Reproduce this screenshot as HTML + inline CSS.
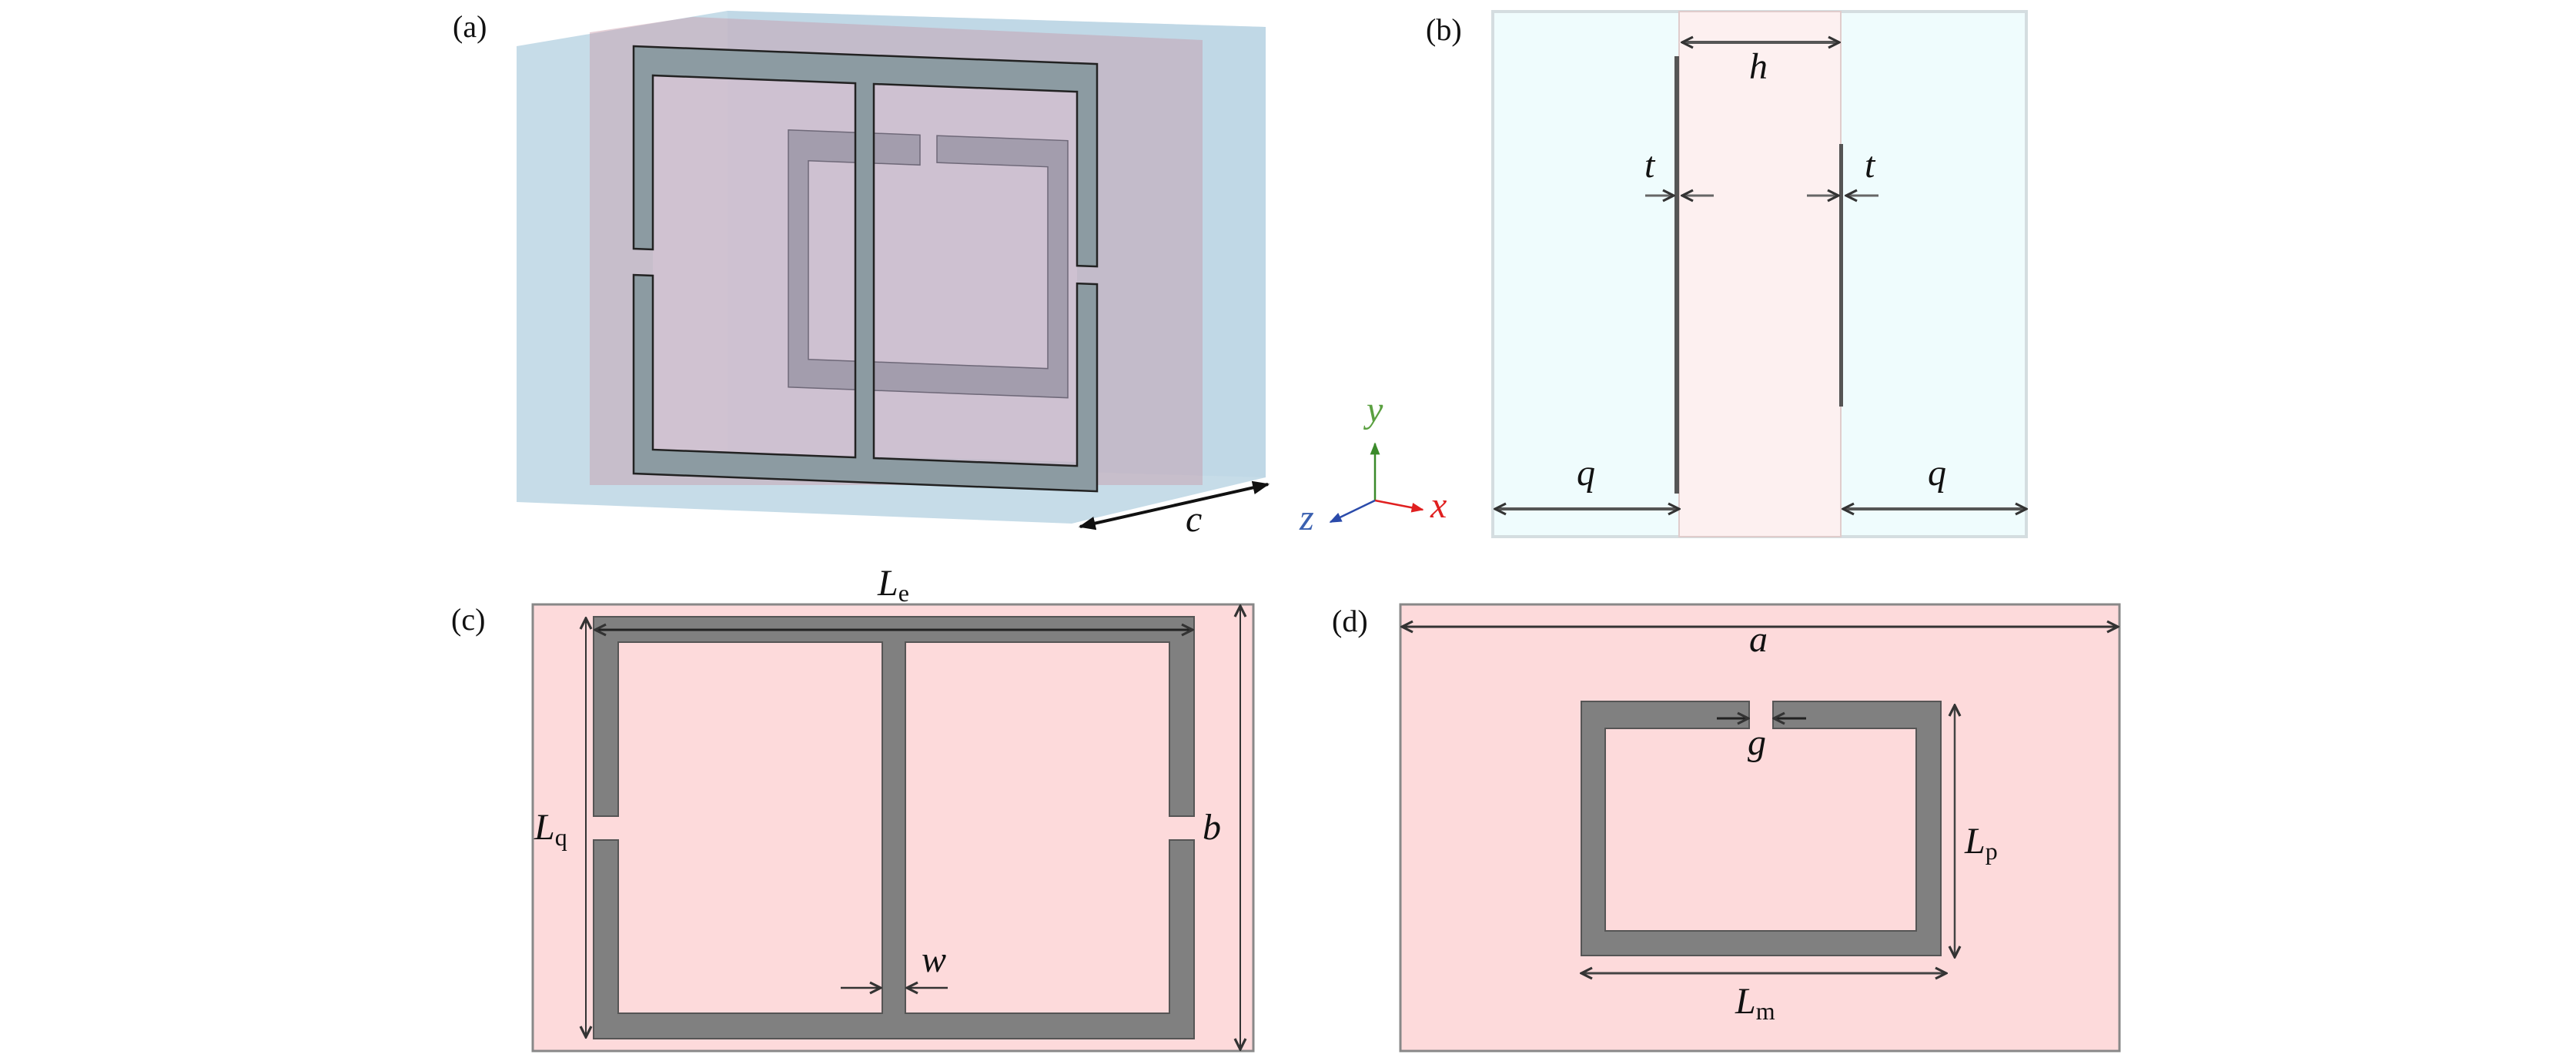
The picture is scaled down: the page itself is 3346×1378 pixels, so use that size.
<!DOCTYPE html>
<html><head><meta charset="utf-8"><style>
html,body{margin:0;padding:0;background:#fff}
svg{display:block}
text{font-family:"Liberation Serif",serif;fill:#111}
.m{font-style:italic;font-size:48px}
.p{font-size:40px}
.s{font-style:normal;font-size:32px}
</style></head><body>
<svg width="3346" height="1378" viewBox="0 0 3346 1378" xmlns="http://www.w3.org/2000/svg">
<defs>
<marker id="ah" viewBox="0 0 10 10" refX="9" refY="5" markerWidth="20" markerHeight="20" orient="auto-start-reverse" markerUnits="userSpaceOnUse"><path d="M2,1.5 L9,5 L2,8.5" fill="none" stroke="#333" stroke-width="1.6"/></marker>
<marker id="ab" viewBox="0 0 10 10" refX="9" refY="5" markerWidth="22" markerHeight="22" orient="auto-start-reverse" markerUnits="userSpaceOnUse"><path d="M0,1 L10,5 L0,9 z" fill="#111"/></marker>
<marker id="ag" viewBox="0 0 10 10" refX="9" refY="5" markerWidth="16" markerHeight="16" orient="auto" markerUnits="userSpaceOnUse"><path d="M0,1 L10,5 L0,9 z" fill="#3a8a2a"/></marker>
<marker id="ar" viewBox="0 0 10 10" refX="9" refY="5" markerWidth="16" markerHeight="16" orient="auto" markerUnits="userSpaceOnUse"><path d="M0,1 L10,5 L0,9 z" fill="#e02020"/></marker>
<marker id="az" viewBox="0 0 10 10" refX="9" refY="5" markerWidth="16" markerHeight="16" orient="auto" markerUnits="userSpaceOnUse"><path d="M0,1 L10,5 L0,9 z" fill="#2a4aaa"/></marker>
</defs>

<!-- (a) -->
<text class="p" x="588" y="48">(a)</text>
<polygon points="671,60 945,14 1644,35 1644,620 1392,680 671,652" fill="#c6dce8"/>
<polygon points="945,14 1644,35 1644,620 945,600" fill="#bcd6e4" opacity="0.6"/>
<polygon points="766,42 900,22 1562,52 1562,630 766,630" fill="#c89aa8" opacity="0.45"/>
<polygon points="848,97 1399,110 1399,600 848,585" fill="#d6c4d6" opacity="0.6"/>
<g transform="translate(823,0) skewY(2.2) translate(-823,0)" stroke="#222" stroke-width="2.5">
 <path d="M1024,161 H1195 V200 H1050 V458 H1361 V196 H1217 V161 H1387 V495 H1024 Z" fill="#a39dad" stroke="#6e6878" stroke-width="1.5"/>
 <path d="M823,60 H1425 V323 H1399 V97 H1135 V583 H1399 V346 H1425 V615 H823 V357 H848 V583 H1111 V97 H848 V323 H823 Z" fill="#8c9ba2" fill-rule="evenodd"/>
</g>
<line x1="1403" y1="684" x2="1647" y2="629" stroke="#111" stroke-width="4" marker-start="url(#ab)" marker-end="url(#ab)"/>
<text class="m" x="1540" y="690">c</text>

<!-- axes -->
<line x1="1786" y1="650" x2="1786" y2="576" stroke="#3a8a2a" stroke-width="2.5" marker-end="url(#ag)"/>
<line x1="1786" y1="650" x2="1848" y2="662" stroke="#e02020" stroke-width="2.5" marker-end="url(#ar)"/>
<line x1="1786" y1="650" x2="1728" y2="678" stroke="#2a4aaa" stroke-width="2.5" marker-end="url(#az)"/>
<text class="m" x="1775" y="548" style="fill:#5aa040">y</text>
<text class="m" x="1858" y="672" style="fill:#e02020">x</text>
<text class="m" x="1688" y="688" style="fill:#3a60b0">z</text>

<!-- (b) -->
<text class="p" x="1852" y="52">(b)</text>
<rect x="1939" y="15" width="693" height="682" fill="#effcfd" stroke="#d4dde0" stroke-width="4"/>
<rect x="2181" y="15" width="210" height="682" fill="#fdf0f0" stroke="#e0cccc" stroke-width="2"/>
<rect x="2175" y="73" width="6" height="568" fill="#555"/>
<rect x="2389" y="187" width="5" height="341" fill="#555"/>
<line x1="2185" y1="55" x2="2389" y2="55" stroke="#555" stroke-width="4" marker-start="url(#ah)" marker-end="url(#ah)"/>
<text class="m" x="2272" y="102">h</text>
<line x1="2137" y1="254" x2="2174" y2="254" stroke="#666" stroke-width="3" marker-end="url(#ah)"/>
<line x1="2226" y1="254" x2="2185" y2="254" stroke="#666" stroke-width="3" marker-end="url(#ah)"/>
<line x1="2347" y1="254" x2="2388" y2="254" stroke="#666" stroke-width="3" marker-end="url(#ah)"/>
<line x1="2440" y1="254" x2="2398" y2="254" stroke="#666" stroke-width="3" marker-end="url(#ah)"/>
<text class="m" x="2136" y="230">t</text>
<text class="m" x="2422" y="230">t</text>
<line x1="1942" y1="661" x2="2181" y2="661" stroke="#555" stroke-width="4" marker-start="url(#ah)" marker-end="url(#ah)"/>
<line x1="2394" y1="661" x2="2632" y2="661" stroke="#555" stroke-width="4" marker-start="url(#ah)" marker-end="url(#ah)"/>
<text class="m" x="2048" y="630">q</text>
<text class="m" x="2504" y="630">q</text>

<!-- (c) -->
<text class="p" x="586" y="818">(c)</text>
<rect x="692" y="785" width="936" height="580" fill="#fddadb" stroke="#888" stroke-width="3"/>
<path d="M771,801 H1551 V1060 H1519 V834 H1176 V1316 H1519 V1091 H1551 V1349 H771 V1091 H803 V1316 H1146 V834 H803 V1060 H771 Z" fill="#808080" stroke="#555" stroke-width="2"/>
<line x1="773" y1="818" x2="1549" y2="818" stroke="#222" stroke-width="3" marker-start="url(#ah)" marker-end="url(#ah)"/>
<text class="m" x="1140" y="773">L<tspan class="s" dy="8">e</tspan></text>
<line x1="761" y1="803" x2="761" y2="1347" stroke="#333" stroke-width="2" marker-start="url(#ah)" marker-end="url(#ah)"/>
<text class="m" x="694" y="1090">L<tspan class="s" dy="8">q</tspan></text>
<line x1="1611" y1="787" x2="1611" y2="1363" stroke="#333" stroke-width="2" marker-start="url(#ah)" marker-end="url(#ah)"/>
<text class="m" x="1562" y="1090">b</text>
<line x1="1092" y1="1283" x2="1144" y2="1283" stroke="#333" stroke-width="2.5" marker-end="url(#ah)"/>
<line x1="1231" y1="1283" x2="1178" y2="1283" stroke="#333" stroke-width="2.5" marker-end="url(#ah)"/>
<text class="m" x="1197" y="1262">w</text>

<!-- (d) -->
<text class="p" x="1730" y="820">(d)</text>
<rect x="1819" y="785" width="934" height="580" fill="#fddadb" stroke="#888" stroke-width="3"/>
<line x1="1821" y1="814" x2="2751" y2="814" stroke="#333" stroke-width="3" marker-start="url(#ah)" marker-end="url(#ah)"/>
<text class="m" x="2272" y="846">a</text>
<path d="M2054,911 H2272 V946 H2085 V1209 H2489 V946 H2303 V911 H2521 V1241 H2054 Z" fill="#808080" stroke="#555" stroke-width="2"/>
<line x1="2230" y1="933" x2="2271" y2="933" stroke="#222" stroke-width="3" marker-end="url(#ah)"/>
<line x1="2346" y1="933" x2="2304" y2="933" stroke="#222" stroke-width="3" marker-end="url(#ah)"/>
<text class="m" x="2270" y="980">g</text>
<line x1="2539" y1="916" x2="2539" y2="1243" stroke="#444" stroke-width="2.5" marker-start="url(#ah)" marker-end="url(#ah)"/>
<text class="m" x="2552" y="1108">L<tspan class="s" dy="8">p</tspan></text>
<line x1="2054" y1="1264" x2="2528" y2="1264" stroke="#444" stroke-width="3" marker-start="url(#ah)" marker-end="url(#ah)"/>
<text class="m" x="2254" y="1316">L<tspan class="s" dy="8">m</tspan></text>
</svg>
</body></html>
